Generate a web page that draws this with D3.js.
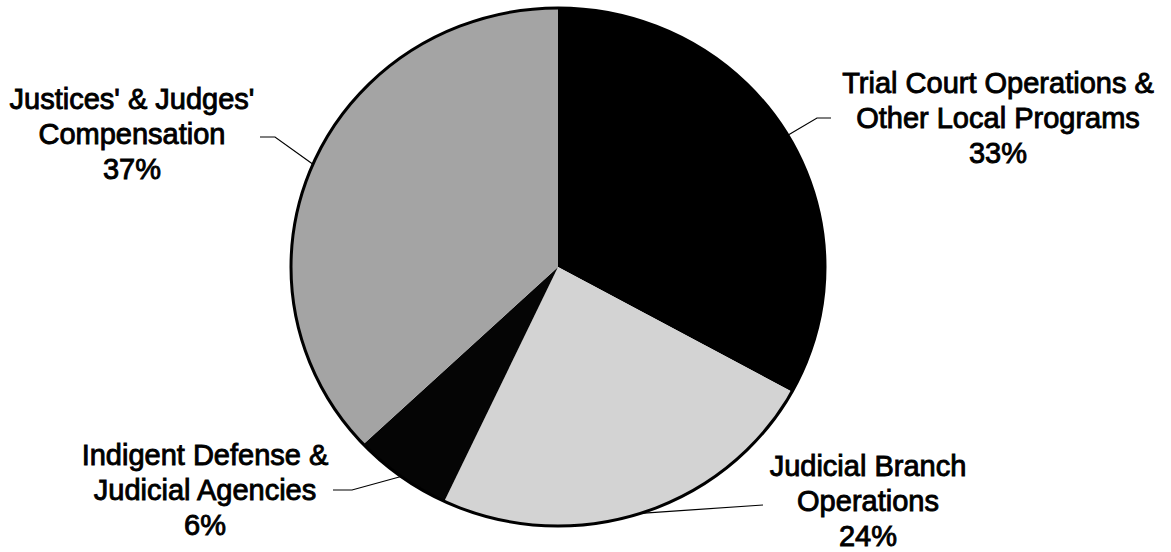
<!DOCTYPE html>
<html>
<head>
<meta charset="utf-8">
<script src="https://cdn.jsdelivr.net/npm/d3@7"></script>
<style>
  html, body { margin: 0; padding: 0; background: #fff; }
  svg { display: block; }
  text { font-family: "Liberation Sans", Arial, sans-serif; }
</style>
</head>
<body>
<svg id="chart" width="1171" height="552"></svg>
<script>
// ---- data ----
const categories = [
  "Trial Court Operations & Other Local Programs",
  "Judicial Branch Operations",
  "Indigent Defense & Judicial Agencies",
  "Justices' & Judges' Compensation"
];
const values = [33, 24, 6, 37];
const labelLines = [
  ["Trial Court Operations &", "Other Local Programs"],
  ["Judicial Branch", "Operations"],
  ["Indigent Defense &", "Judicial Agencies"],
  ["Justices' & Judges'", "Compensation"]
];

// ---- layout / style (kept separate from data) ----
const W = 1171, H = 552;
const cx = 558, cy = 267, rx = 267, ry = 259;
const fills = ["#000000", "#d3d3d3", "#050505", "#a4a4a4"];
const labelPos = [
  { x: 998, y: 93 },
  { x: 868, y: 476 },
  { x: 205, y: 465 },
  { x: 132, y: 109 }
];
const leaderPts = [
  [[817, 118], [831, 118]],
  [[763, 505]],
  [[352, 490], [333, 490]],
  [[275, 137], [260, 137]]
];
const lineH = 35;
const fontSize = 29;

const svg = d3.select("#chart");

const pie = d3.pie().sort(null).value(d => d)
  .startAngle(0).endAngle(2 * Math.PI);
const arcs = pie(values);
const arc = d3.arc().innerRadius(0).outerRadius(rx);

const g = svg.append("g")
  .attr("transform", `translate(${cx},${cy}) scale(1,${ry / rx})`);

g.selectAll("path.slice")
  .data(arcs)
  .join("path")
  .attr("class", "slice")
  .attr("d", arc)
  .attr("fill", (d, i) => fills[i]);

// outline
svg.append("ellipse")
  .attr("cx", cx).attr("cy", cy)
  .attr("rx", rx).attr("ry", ry)
  .attr("fill", "none")
  .attr("stroke", "#000")
  .attr("stroke-width", 3);

// leader lines
arcs.forEach((d, i) => {
  const mid = (d.startAngle + d.endAngle) / 2;
  const p0 = [cx + rx * Math.sin(mid), cy - ry * Math.cos(mid)];
  const pts = [p0].concat(leaderPts[i]);
  svg.append("path")
    .attr("d", d3.line()(pts))
    .attr("fill", "none")
    .attr("stroke", "#000")
    .attr("stroke-width", 1.2);
});

// labels
arcs.forEach((d, i) => {
  const t = svg.append("text")
    .attr("x", labelPos[i].x)
    .attr("y", labelPos[i].y)
    .attr("text-anchor", "middle")
    .attr("font-size", fontSize)
    .attr("fill", "#000")
    .attr("stroke", "#000")
    .attr("stroke-width", 0.9);
  const lines = labelLines[i].concat([values[i] + "%"]);
  lines.forEach((ln, j) => {
    t.append("tspan")
      .attr("x", labelPos[i].x)
      .attr("y", labelPos[i].y + j * lineH)
      .text(ln);
  });
});
</script>
</body>
</html>
